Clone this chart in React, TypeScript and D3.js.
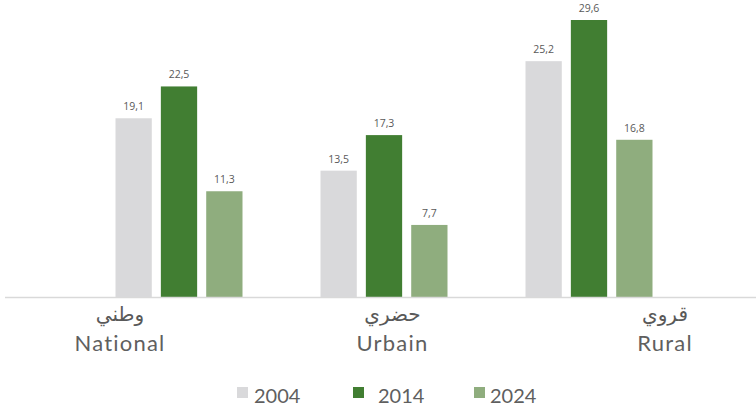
import { useEffect, useRef } from "react";
import * as d3 from "d3";

const categories = ["National", "Urbain", "Rural"];
const categoriesAr = ["وطني", "حضري", "قروي"];
const years = ["2004", "2014", "2024"];
const values2004 = [19.1, 13.5, 25.2];
const values2014 = [22.5, 17.3, 29.6];
const values2024 = [11.3, 7.7, 16.8];
const colors = ["#d9d9db", "#417e32", "#8fad7e"];

export default function App() {
  const ref = useRef<SVGSVGElement | null>(null);

  useEffect(() => {
    draw();
  }, []);

  function draw() {
    const svg = d3.select(ref.current);
    svg.selectAll("*").remove();

    const baseline = 297;
    const series = [values2004, values2014, values2024];

    const x0 = d3.scaleBand().domain(categories).range([76.5, 691.5]).padding(0);
    const x1 = d3.scaleBand().domain(years).range([0, 127]).paddingInner(0.2);
    const groupOffset = (x0.bandwidth() - 127) / 2;
    const y = d3.scaleLinear().domain([0, 29.6]).range([baseline, 20]);
    const labelX = d3.scalePoint().domain(categories).range([120, 665]);

    // bars
    years.forEach((yr, si) => {
      const g = svg.append("g");
      g.selectAll("rect")
        .data(categories)
        .enter()
        .append("rect")
        .attr("x", (c) => x0(c)! + groupOffset + x1(yr)!)
        .attr("y", (c, i) => y(series[si][i]))
        .attr("width", x1.bandwidth())
        .attr("height", (c, i) => baseline - y(series[si][i]))
        .attr("fill", colors[si]);

      g.selectAll("text")
        .data(categories)
        .enter()
        .append("text")
        .attr("x", (c) => x0(c)! + groupOffset + x1(yr)! + x1.bandwidth() / 2)
        .attr("y", (c, i) => y(series[si][i]) - 8)
        .attr("text-anchor", "middle")
        .attr("font-family", "Open Sans, sans-serif")
        .attr("font-size", 10.5)
        .attr("fill", "#595959")
        .text((c, i) => series[si][i].toFixed(1).replace(".", ","));
    });

    // axis line
    svg.append("line")
      .attr("x1", 5)
      .attr("x2", 756)
      .attr("y1", baseline + 0.5)
      .attr("y2", baseline + 0.5)
      .attr("stroke", "#d9d9d9")
      .attr("stroke-width", 1.5);

    // category labels
    categories.forEach((c, i) => {
      svg.append("text")
        .attr("x", labelX(c)!)
        .attr("y", 321)
        .attr("text-anchor", "middle")
        .attr("font-family", "DejaVu Sans, sans-serif")
        .attr("font-size", 20)
        .attr("fill", "#595959")
        .text(categoriesAr[i]);
      svg.append("text")
        .attr("x", labelX(c)!)
        .attr("y", 351)
        .attr("text-anchor", "middle")
        .attr("font-family", "Lato, sans-serif")
        .attr("font-size", 22)
        .attr("letter-spacing", 1.2)
        .attr("fill", "#5f5f5f")
        .text(c);
    });

    // legend
    const legendX = [237, 353, 474];
    const textX = [254, 378, 490];
    years.forEach((yr, i) => {
      svg.append("rect")
        .attr("x", legendX[i])
        .attr("y", 387)
        .attr("width", 11)
        .attr("height", 11)
        .attr("fill", colors[i]);
      svg.append("text")
        .attr("x", textX[i])
        .attr("y", 403)
        .attr("font-family", "Lato, sans-serif")
        .attr("font-size", 20)
        .attr("fill", "#5f5f5f")
        .text(yr);
    });
  }

  return (
    <svg
      ref={ref}
      width={756}
      height={407}
      style={{ position: "absolute", left: 0, top: 0, background: "#fff" }}
    />
  );
}
